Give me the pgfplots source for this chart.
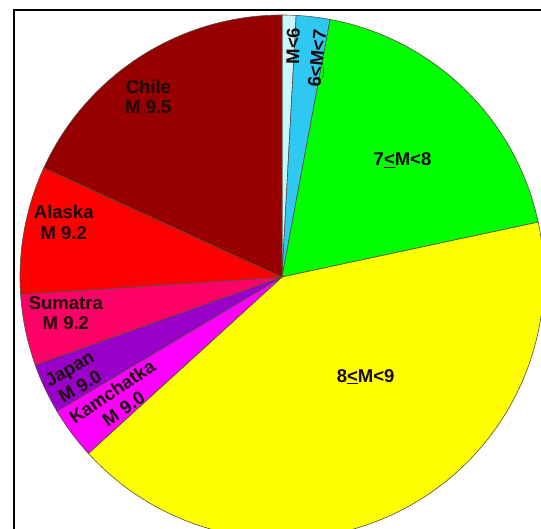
\documentclass[border=0pt]{standalone}
\usepackage{pgfplots}
\pgfplotsset{compat=1.18}
\usepackage{pgfplotstable}
\usepackage{fontspec}
\setmainfont{Liberation Sans}
\definecolor{cA}{HTML}{C8F6FA}
\definecolor{cB}{HTML}{2EC8F2}
\definecolor{cC}{HTML}{00FF00}
\definecolor{cD}{HTML}{FFFF00}
\definecolor{cE}{HTML}{FF00FF}
\definecolor{cF}{HTML}{9900C8}
\definecolor{cG}{HTML}{FF0066}
\definecolor{cH}{HTML}{FF0000}
\definecolor{cI}{HTML}{960000}
\definecolor{edgecol}{HTML}{505040}
\definecolor{txt}{HTML}{1A0A0A}
\tikzset{lbl/.style={font=\bfseries\fontsize{18.5}{20.5}\selectfont, text=txt, align=center, inner sep=0pt}}
% share of each class (percent), clockwise from 12 o'clock
\pgfplotstableread{
value color
0.86  cA
2.08  cB
18.7  cC
41.6  cD
3.2   cE
3.1   cF
4.4   cG
7.9   cH
18.16 cI
}\piedata
\begin{document}
\begin{tikzpicture}[x=1pt,y=1pt]
\begin{axis}[
  at={(282pt,252pt)}, anchor=origin,
  width=524pt, height=524pt, scale only axis,
  xmin=-1, xmax=1, ymin=-1, ymax=1,
  hide axis, clip=false,
]
\pgfmathsetmacro\cum{0}
\pgfplotsforeachungrouped \i in {0,...,8}{%
  \pgfplotstablegetelem{\i}{value}\of\piedata \let\v\pgfplotsretval
  \pgfplotstablegetelem{\i}{color}\of\piedata \let\c\pgfplotsretval
  \pgfmathsetmacro\a{90-3.6*\cum}%
  \pgfmathsetmacro\b{90-3.6*(\cum+\v)}%
  \edef\temp{\noexpand\addplot[fill=\c, draw=edgecol, line width=0.6pt, domain=\b:\a, samples=120, smooth] ({cos(x)},{sin(x)}) -- (axis cs:0,0) -- cycle;}%
  \temp
  \pgfmathsetmacro\cum{\cum+\v}%
}
\node[lbl] at (axis cs:-0.510,0.688) {Chile\\M 9.5};
\node[lbl] at (axis cs:-0.833,0.209) {Alaska\\M 9.2};
\node[lbl] at (axis cs:-0.825,-0.137) {Sumatra\\M 9.2};
\node[lbl, rotate=31] at (axis cs:-0.791,-0.384) {Japan\\M 9.0};
\node[lbl, rotate=34] at (axis cs:-0.627,-0.470) {Kamchatka\\M 9.0};
\node[lbl, rotate=89] at (axis cs:0.042,0.882) {M<6};
\node[lbl, rotate=84] at (axis cs:0.137,0.833) {6\underline{<}M<7};
\node[lbl] at (axis cs:0.460,0.445) {7\underline{<}M<8};
\node[lbl] at (axis cs:0.319,-0.380) {8\underline{<}M<9};
\end{axis}
\draw[line width=1.8pt] (14,-30) -- (14,519) -- (580,519);
\pgfresetboundingbox
\path (0,0) rectangle (541,529);
\end{tikzpicture}
\end{document}
